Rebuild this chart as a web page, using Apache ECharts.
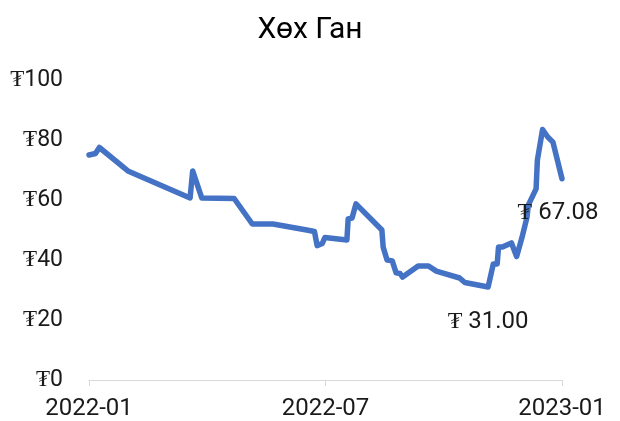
<!DOCTYPE html>
<html>
<head>
<meta charset="utf-8">
<script src="https://cdn.jsdelivr.net/npm/echarts@6/dist/echarts.min.js"></script>
<style>html,body{margin:0;padding:0;background:#fff}#c{width:620px;height:421px}</style>
</head>
<body>
<div id="c"></div>
<script>
const title = 'Хөх Ган';
const dates = ['2022-01-01','2022-01-06','2022-01-09','2022-01-31','2022-03-20','2022-03-22','2022-03-29','2022-04-23','2022-04-24','2022-05-07','2022-05-23','2022-06-18','2022-06-24','2022-06-26','2022-06-30','2022-07-02','2022-07-19','2022-07-20','2022-07-23','2022-07-26','2022-08-15','2022-08-16','2022-08-19','2022-08-23','2022-08-26','2022-08-29','2022-08-31','2022-09-12','2022-09-20','2022-09-26','2022-10-14','2022-10-18','2022-11-05','2022-11-09','2022-11-12','2022-11-13','2022-11-16','2022-11-23','2022-11-27','2022-12-01','2022-12-05','2022-12-06','2022-12-12','2022-12-13','2022-12-17','2022-12-21','2022-12-25','2022-12-26','2023-01-01'];
const prices = [75,75.5,77.5,69.7,60.7,69.7,60.7,60.5,60,52,52,50,49.5,44.8,45.5,47.5,46.7,53.7,54,58.7,50,44.3,40,39.7,35.7,35.5,34.3,38,38,36.3,34,32.5,31.00,38.7,38.7,44.3,44.3,45.7,41.2,47.3,54.3,58.3,63.7,73.3,83.5,81,79.3,79,67.08];
const labelledIdx = [32, 48];
const xTickLabels = ['2022-01','2022-07','2023-01'];
const yTicks = [0,20,40,60,80,100];

const ts = d => new Date(d + 'T00:00:00Z').getTime();
const xMin = ts('2022-01-01'), xMax = ts('2023-01-01');
const data = dates.map((d,i) => {
  const item = {value:[ts(d), prices[i]]};
  if (labelledIdx.includes(i)) {
    item.symbol = 'circle'; item.symbolSize = 1;
    item.label = {show:true, position:'bottom', distance:22,
      offset: i === dates.length - 1 ? [-4, 0] : [0, 0],
      formatter: p => '₮ ' + p.value[1].toFixed(2),
      fontSize:24, color:'#1a1a1a', fontFamily:'Roboto'};
  }
  return item;
});
const chart = echarts.init(document.getElementById('c'));
chart.setOption({
  animation:false,
  title:{text:title,left:'center',top:10,textStyle:{fontSize:30,fontWeight:'normal',color:'#000',fontFamily:'Roboto'}},
  grid:{left:89,right:58,top:80,bottom:41},
  xAxis:{type:'value',min:xMin,max:xMax,interval:(xMax-xMin)/2,
    axisLine:{lineStyle:{color:'#d9d9d9',width:1}},
    axisTick:{show:true,length:6,lineStyle:{color:'#d9d9d9'}},
    splitLine:{show:false},
    axisLabel:{fontSize:24,color:'#1a1a1a',fontFamily:'Roboto',margin:17,
      formatter:(v,i)=>xTickLabels[Math.round((v-xMin)/((xMax-xMin)/2))]}},
  yAxis:{type:'value',min:yTicks[0],max:yTicks[yTicks.length-1],interval:20,
    axisLine:{show:false},axisTick:{show:false},splitLine:{show:false},
    axisLabel:{fontSize:23,color:'#1a1a1a',fontFamily:'Roboto',margin:26,formatter:v=>'₮'+v}},
  series:[{type:'line',data:data,showSymbol:true,symbol:'none',
    lineStyle:{color:'#4472C4',width:5.5,join:'round',cap:'round'},
    itemStyle:{color:'#4472C4'},emphasis:{disabled:true}}]
});
</script>
</body>
</html>
